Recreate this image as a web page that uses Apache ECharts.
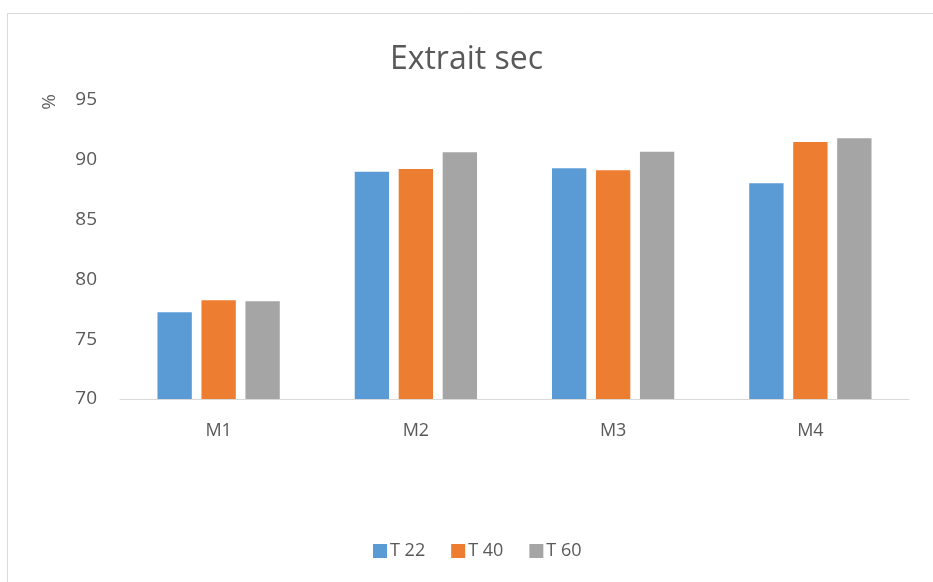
<!DOCTYPE html>
<html><head><meta charset="utf-8">
<script src="https://cdn.jsdelivr.net/npm/echarts@6/dist/echarts.min.js"></script>
<style>html,body{margin:0;padding:0;background:#fff}#c{width:933px;height:582px}</style>
</head><body><div id="c"></div>
<script>
var categories = ['M1', 'M2', 'M3', 'M4'];
var seriesNames = ['T 22', 'T 40', 'T 60'];
var t22 = [77.25, 89.0, 89.29, 88.03];
var t40 = [78.25, 89.23, 89.12, 91.49];
var t60 = [78.17, 90.63, 90.68, 91.8];
var colors = ['#5B9BD5', '#ED7D31', '#A5A5A5'];
var FONT = 'Open Sans';
var chart = echarts.init(document.getElementById('c'));
function bar(name, data, color) {
  return { name: name, type: 'bar', data: data, barGap: '28%', barCategoryGap: '38%',
    itemStyle: { color: color }, emphasis: { disabled: true } };
}
chart.setOption({
  animation: false,
  textStyle: { fontFamily: FONT },
  title: { text: 'Extrait sec', left: 'center', top: 39,
    textStyle: { fontFamily: FONT, fontSize: 32, fontWeight: 'normal', color: '#595959' } },
  graphic: [
    { type: 'rect', shape: { x: 7.5, y: 13.5, width: 940, height: 590 }, style: { fill: 'none', stroke: '#D9D9D9', lineWidth: 1 }, silent: true },
    { type: 'text', x: 50, y: 102, rotation: Math.PI / 2, style: { text: '%', fontFamily: FONT, fontSize: 19, fill: '#595959', align: 'center', verticalAlign: 'middle' } }
  ],
  legend: { data: seriesNames, bottom: 17, left: 368, itemWidth: 14, itemHeight: 14, itemGap: 26,
    icon: 'rect', textStyle: { fontFamily: FONT, fontSize: 18, color: '#595959', padding: [0, 0, 0, -2] } },
  grid: { left: 120, right: 24, top: 100, bottom: 183 },
  xAxis: { type: 'category', data: categories,
    axisLine: { lineStyle: { color: '#D9D9D9', width: 1 } }, axisTick: { show: false },
    axisLabel: { fontFamily: FONT, fontSize: 18, color: '#595959', margin: 23 } },
  yAxis: { type: 'value', min: 70, max: 95, interval: 5,
    axisLine: { show: false }, axisTick: { show: false }, splitLine: { show: false },
    axisLabel: { fontFamily: FONT, fontSize: 19, color: '#595959', margin: 23 } },
  series: [bar(seriesNames[0], t22, colors[0]), bar(seriesNames[1], t40, colors[1]), bar(seriesNames[2], t60, colors[2])]
});
</script></body></html>
